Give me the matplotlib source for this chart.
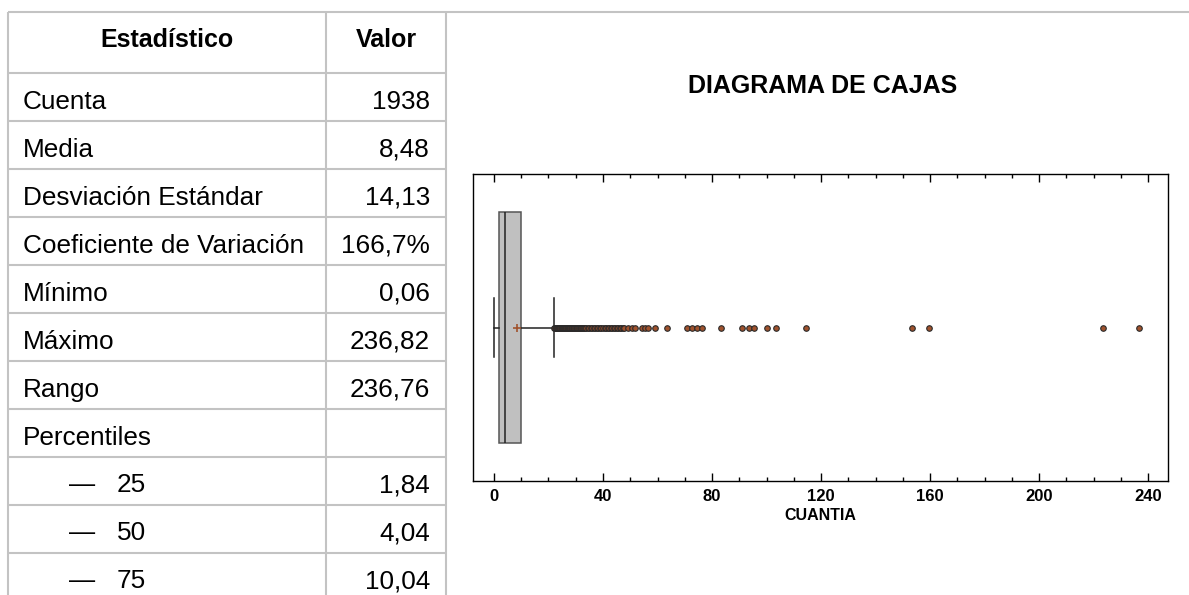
import matplotlib
matplotlib.use("Agg")
import matplotlib.pyplot as plt
from matplotlib.ticker import MultipleLocator

plt.rcParams['font.family'] = ['Liberation Sans', 'DejaVu Sans']

# ---------------- data ----------------
header_labels = ["Estadístico", "Valor"]
stat_names = ["Cuenta", "Media", "Desviación Estándar", "Coeficiente de Variación",
              "Mínimo", "Máximo", "Rango", "Percentiles"]
stat_values = ["1938", "8,48", "14,13", "166,7%", "0,06", "236,82", "236,76", ""]
percentile_names = ["25", "50", "75"]
percentile_values = ["1,84", "4,04", "10,04"]

q1 = 1.84
median = 4.04
q3 = 10.04
mean = 8.48
minimum = 0.06
upper_whisker = 22.0
outliers = [22.2, 22.4, 22.6, 22.8, 23.0, 23.2, 23.4, 23.6, 23.8, 24.0, 24.2, 24.4,
            24.6, 24.8, 25.0, 25.2, 25.4, 25.6, 25.8, 26.0, 26.2, 26.4, 26.6, 26.8,
            27.0, 27.2, 27.4, 27.6, 27.8, 28.0, 28.2, 28.5, 28.7, 29.0, 29.2, 29.5,
            29.7, 30.0, 30.3, 30.6, 30.9, 31.2, 31.5, 31.8, 32.1, 32.4, 32.8, 33.1,
            33.5, 33.9,
            34.5, 35.0, 35.6, 36.1, 36.7, 37.2, 37.8, 38.3, 38.9, 39.4, 40.0, 40.6,
            41.1, 41.7, 42.2, 42.8, 43.3, 43.9, 44.4, 45.0, 45.6, 46.1, 46.7, 47.2,
            47.7, 49.3, 50.6, 51.8, 54.3, 55.4, 56.5, 59.0, 63.4, 70.9, 72.8, 74.6,
            76.2, 83.2, 90.9, 93.7, 95.5, 100.1, 103.5, 114.5, 153.4, 159.6, 223.5,
            236.82]
x_ticks = [0, 40, 80, 120, 160, 200, 240]
x_label = "CUANTIA"
title = "DIAGRAMA DE CAJAS"

# ---------------- figure ----------------
W, H = 1189, 595
fig = plt.figure(figsize=(W / 100, H / 100), dpi=100)

bg = fig.add_axes([0, 0, 1, 1])
bg.set_xlim(0, W)
bg.set_ylim(H, 0)
bg.axis('off')

grid_color = '#c3c3c3'
glw = 1.5
x_l, x_m, x_r = 8, 326, 446
y_top, y_head, row_h = 12, 73, 48
n_rows = len(stat_names) + len(percentile_names)

bg.plot([x_l, W], [y_top, y_top], color=grid_color, lw=glw, solid_capstyle='butt')
for xv in (x_l, x_m, x_r):
    bg.plot([xv, xv], [y_top, H + 5], color=grid_color, lw=glw, solid_capstyle='butt')
for k in range(n_rows):
    yv = y_head + k * row_h
    bg.plot([x_l, x_r], [yv, yv], color=grid_color, lw=glw, solid_capstyle='butt')

fs = 18.8
bg.text((x_l + x_m) / 2, 47, header_labels[0], ha='center', va='baseline',
        fontsize=18, fontweight='bold', color='black')
bg.text((x_m + x_r) / 2, 47, header_labels[1], ha='center', va='baseline',
        fontsize=18, fontweight='bold', color='black')

for i, (name, val) in enumerate(zip(stat_names, stat_values)):
    yb = y_head + i * row_h + 36
    bg.text(23, yb, name, ha='left', va='baseline', fontsize=fs)
    bg.text(430, yb, val, ha='right', va='baseline', fontsize=fs)
for j, (name, val) in enumerate(zip(percentile_names, percentile_values)):
    yb = y_head + (len(stat_names) + j) * row_h + 35
    bg.text(69, yb, "—", ha='left', va='baseline', fontsize=fs)
    bg.text(117, yb, name, ha='left', va='baseline', fontsize=fs)
    bg.text(430, yb, val, ha='right', va='baseline', fontsize=fs)

bg.text(823, 93, title, ha='center', va='baseline', fontsize=18, fontweight='bold')

# ---------------- box plot ----------------
ax = fig.add_axes([473 / W, 1 - 481 / H, (1168 - 473) / W, (481 - 174) / H])
stats = [dict(med=median, q1=q1, q3=q3, whislo=minimum, whishi=upper_whisker,
              mean=mean, fliers=outliers, label='')]
ax.bxp(stats, positions=[1], widths=0.75, orientation='horizontal',
       showmeans=True, patch_artist=True, capwidths=0.19,
       boxprops=dict(facecolor='#c0c0c0', edgecolor='#555555', linewidth=1.1),
       medianprops=dict(color='#222222', linewidth=1.1),
       whiskerprops=dict(color='#222222', linewidth=1.1),
       capprops=dict(color='#222222', linewidth=1.1),
       meanprops=dict(marker='+', markeredgecolor='#a0522d', markersize=6,
                      markeredgewidth=1.2),
       flierprops=dict(marker='o', markerfacecolor='#a0522d', markeredgecolor='#2a2a2a',
                       markersize=4, markeredgewidth=0.8))

ax.set_ylim(0.5, 1.5)
ax.set_xlim(-7.7, 247.3)
ax.set_xticks(x_ticks)
ax.xaxis.set_minor_locator(MultipleLocator(10))
ax.set_yticks([])
ax.tick_params(axis='x', which='both', direction='in', top=True, bottom=True,
               color='black', width=1.0, pad=5.5)
ax.tick_params(axis='x', which='major', length=6)
ax.tick_params(axis='x', which='minor', length=3)
for lab in ax.get_xticklabels():
    lab.set_fontweight('bold')
    lab.set_fontsize(12)
ax.set_xlabel(x_label, fontsize=11.5, fontweight='bold', labelpad=3)
for sp in ax.spines.values():
    sp.set_color('black')
    sp.set_linewidth(1.0)

fig.savefig('out.png', dpi=100)
